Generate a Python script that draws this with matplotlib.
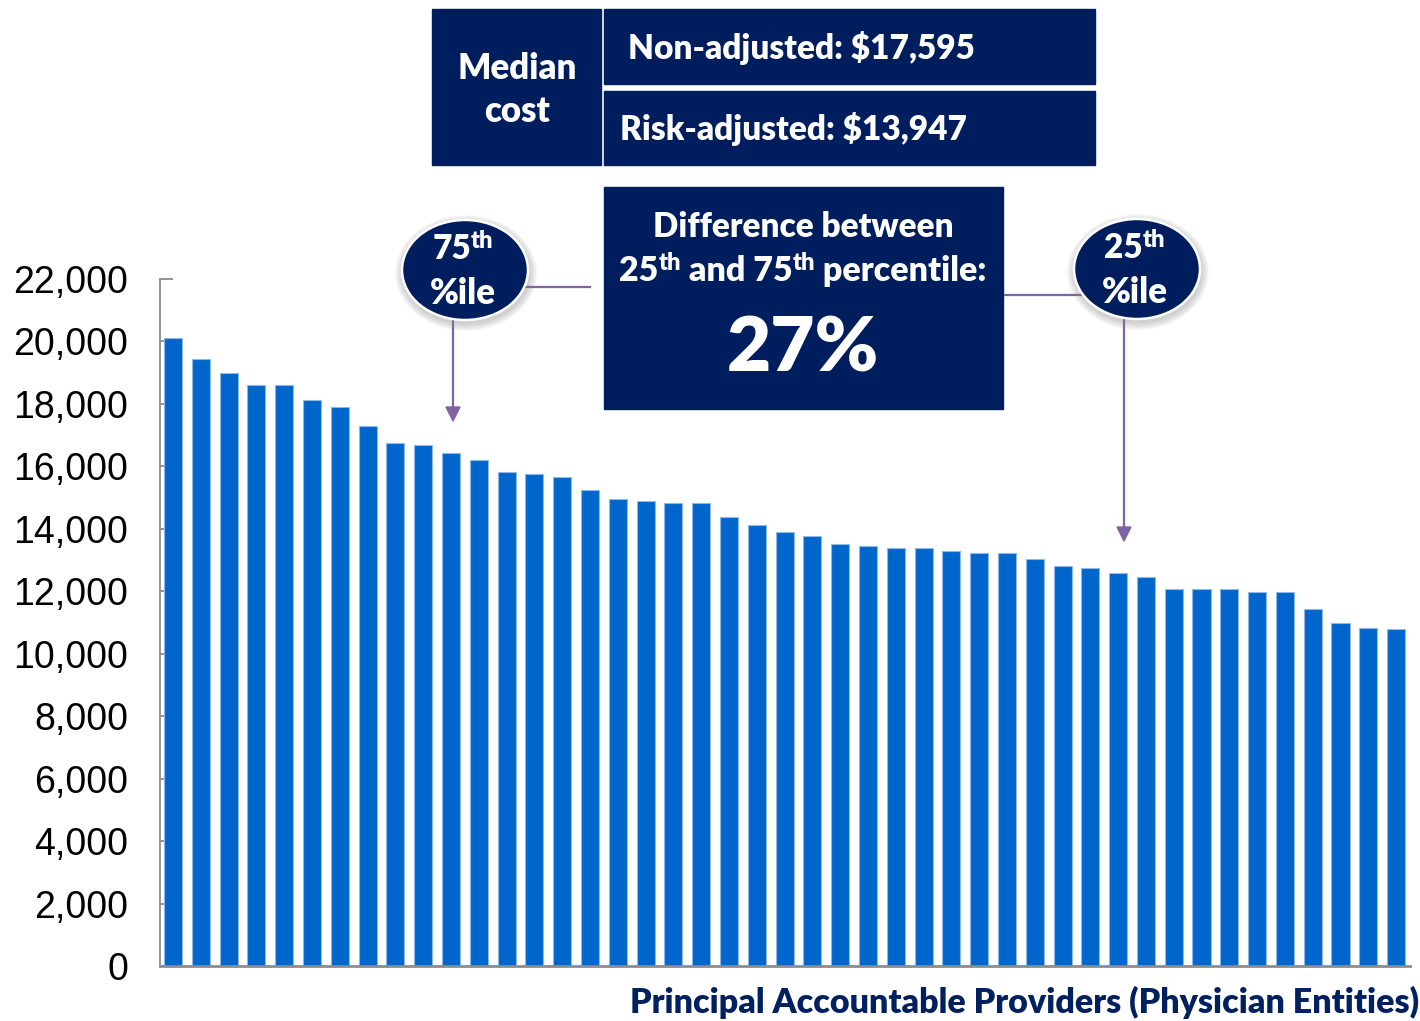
import matplotlib
matplotlib.use("Agg")
import matplotlib.pyplot as plt
from matplotlib.patches import Rectangle, Ellipse, Polygon
import numpy as np

# Risk-adjusted cost per Principal Accountable Provider, sorted high to low
costs = [20100, 19430, 18990, 18600, 18600, 18110, 17890, 17290, 16740, 16690,
         16420, 16190, 15810, 15760, 15650, 15250, 14940, 14890, 14840, 14840,
         14390, 14110, 13900, 13780, 13510, 13450, 13400, 13400, 13290, 13240,
         13230, 13020, 12810, 12740, 12570, 12460, 12080, 12080, 12080, 11980,
         11980, 11420, 10980, 10820, 10780]
y_ticks = [0, 2000, 4000, 6000, 8000, 10000, 12000, 14000, 16000, 18000, 20000, 22000]
x_label = "Principal Accountable Providers (Physician Entities)"
median_title = ["Median", "cost"]
median_non_adjusted = "Non-adjusted: $17,595"
median_risk_adjusted = "Risk-adjusted: $13,947"
spread_pct = "27%"

NAVY = "#001E5E"
BAR = "#0066CC"
PURPLE = "#8064A2"
TXT_FONT = ["Lato", "DejaVu Sans"]
WEIGHT = "heavy"

W, H = 1420, 1021
fig = plt.figure(figsize=(W / 100, H / 100), dpi=100)

# ---- bar chart ----
ax = fig.add_axes([160 / W, (H - 966) / H, 1250 / W, (966 - 279) / H])
x = np.arange(len(costs))
ax.bar(x, costs, width=0.65, color=BAR, edgecolor="#8DB8E8", linewidth=0.8, zorder=2)
ax.set_xlim(-0.47, len(costs) - 0.5)
ax.set_ylim(0, 22000)
ax.set_yticks(y_ticks)
ax.set_yticklabels([f"{v:,}" for v in y_ticks], fontsize=27,
                   family=["Liberation Sans", "DejaVu Sans"])
ax.tick_params(axis="y", direction="in", length=9, width=1.3, color="#8C8C8C", pad=23)
ax.set_xticks([])
for s in ("top", "right"):
    ax.spines[s].set_visible(False)
ax.spines["left"].set_color("#8C8C8C")
ax.spines["left"].set_linewidth(1.3)
ax.spines["bottom"].set_color("#8C8C8C")
ax.spines["bottom"].set_linewidth(2.0)

# ---- overlay in pixel coordinates ----
ov = fig.add_axes([0, 0, 1, 1], zorder=5)
ov.set_xlim(0, W)
ov.set_ylim(H, 0)
ov.axis("off")
ov.patch.set_alpha(0)

renderer = fig.canvas.get_renderer()


def rich(xc, yb, segments, color="white", anchor="center"):
    """Draw a line of bold text pieces at baseline yb (pixels).
    segments: list of (text, fontsize, rise_px)."""
    arts = []
    for txt, size, rise in segments:
        t = ov.text(0, yb - rise, txt, fontsize=size, fontweight=WEIGHT,
                    family=TXT_FONT, color=color, ha="left", va="baseline", zorder=10)
        arts.append(t)
    widths = [a.get_window_extent(renderer).width for a in arts]
    total = sum(widths)
    if anchor == "center":
        xpos = xc - total / 2
    elif anchor == "right":
        xpos = xc - total
    else:
        xpos = xc
    for a, w in zip(arts, widths):
        a.set_x(xpos)
        xpos += w


# median cost table
ov.add_patch(Rectangle((432, 9), 169, 156, color=NAVY, zorder=3))
ov.add_patch(Rectangle((604, 9), 491, 75, color=NAVY, zorder=3))
ov.add_patch(Rectangle((604, 91), 491, 74, color=NAVY, zorder=3))
rich(517, 79, [(median_title[0], 25, 0)])
rich(517, 122, [(median_title[1], 25, 0)])
rich(628, 59, [(median_non_adjusted, 24, 0)], anchor="left")
rich(620, 140, [(median_risk_adjusted, 24, 0)], anchor="left")

# spread box
ov.add_patch(Rectangle((604, 187), 399, 222, color=NAVY, zorder=3))
rich(803, 237, [("Difference between", 24, 0)])
rich(803, 281, [("25", 24.5, 0), ("th", 17, 11), (" and 75", 24.5, 0), ("th", 17, 11),
                (" percentile:", 24.5, 0)])
rich(803, 371, [(spread_pct, 55, 0)])


def bubble(xc, yc, label):
    # soft shadow
    for k in range(8, 0, -1):
        ov.add_patch(Ellipse((xc + 1, yc + 3), 126 + 2 * k, 100 + 2 * k,
                             color="#808080", alpha=0.05, lw=0, zorder=6))
    ov.add_patch(Ellipse((xc, yc), 126, 100, facecolor=NAVY, edgecolor="white",
                         lw=1.8, zorder=7))
    rich(xc - 2, yc - 11, [(label, 24, 0), ("th", 17, 11)])
    rich(xc - 2, yc + 34, [("%ile", 25, 0)])


def arrow_down(xp, y0, y1):
    ov.plot([xp, xp], [y0, y1 - 12], color=PURPLE, lw=1.6, zorder=4,
            solid_capstyle="butt")
    ov.add_patch(Polygon([[xp - 7, y1 - 14], [xp + 7, y1 - 14], [xp, y1]],
                         closed=True, color=PURPLE, zorder=4))


# connectors
ov.plot([526, 590], [287, 287], color=PURPLE, lw=1.6, zorder=4)
ov.plot([1005, 1082], [295, 295], color=PURPLE, lw=1.6, zorder=4)
arrow_down(453, 318, 421)
arrow_down(1124, 316, 541)

bubble(465, 270, "75")
bubble(1137, 269, "25")

# x axis title
rich(1419, 1013, [(x_label, 24.5, 0)], color="#002060", anchor="right")

fig.savefig("out.png", dpi=100)
